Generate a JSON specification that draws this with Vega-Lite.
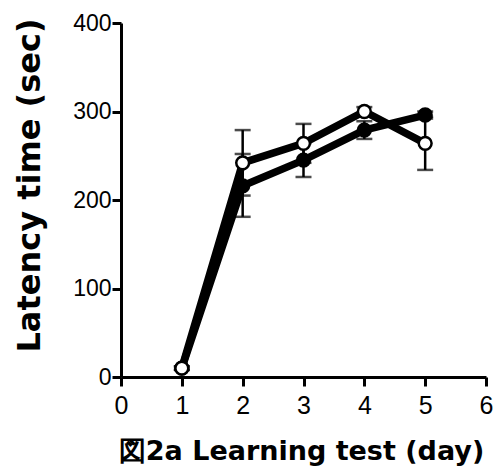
{
  "$schema": "https://vega.github.io/schema/vega-lite/v6.json",
  "width": 365,
  "height": 354,
  "autosize": "none",
  "padding": {"left": 121, "top": 23, "right": 9, "bottom": 89},
  "background": "white",
  "config": {
    "view": {"stroke": null},
    "axis": {
      "domainColor": "black",
      "domainWidth": 3,
      "tickColor": "black",
      "tickWidth": 3,
      "tickSize": 9,
      "grid": false,
      "labelColor": "black",
      "labelFont": "Liberation Sans",
      "labelFontSize": 24,
      "labelFlush": false,
      "labelOverlap": false,
      "titleColor": "black",
      "titleFont": "DejaVu Sans",
      "titleFontWeight": "bold"
    }
  },
  "data": {
    "values": [
      {"day": 1, "series": "filled", "mean": 10, "lo": 8, "hi": 12},
      {"day": 2, "series": "filled", "mean": 216, "lo": 181, "hi": 252},
      {"day": 3, "series": "filled", "mean": 245, "lo": 226, "hi": 264},
      {"day": 4, "series": "filled", "mean": 279, "lo": 269, "hi": 289},
      {"day": 5, "series": "filled", "mean": 296, "lo": 292, "hi": 300},
      {"day": 1, "series": "open", "mean": 10, "lo": 8, "hi": 12},
      {"day": 2, "series": "open", "mean": 242, "lo": 205, "hi": 279},
      {"day": 3, "series": "open", "mean": 264, "lo": 242, "hi": 286},
      {"day": 4, "series": "open", "mean": 300, "lo": 295, "hi": 305},
      {"day": 5, "series": "open", "mean": 264, "lo": 234, "hi": 294}
    ]
  },
  "encoding": {
    "x": {
      "field": "day",
      "type": "quantitative",
      "scale": {"domain": [0, 6], "nice": false, "zero": false},
      "axis": {
        "values": [0, 1, 2, 3, 4, 5, 6],
        "labelFontSize": 25,
        "labelPadding": 7,
        "title": "図2a Learning test (day)",
        "titleFontSize": 27,
        "titleX": 180,
        "titleY": 82,
        "titleAnchor": null,
        "titleAlign": "center",
        "titleBaseline": "alphabetic"
      }
    }
  },
  "layer": [
    {
      "mark": {"type": "rule", "color": "black", "strokeWidth": 2.5},
      "encoding": {
        "y": {
          "field": "lo",
          "type": "quantitative",
          "scale": {"domain": [0, 400], "nice": false},
          "axis": {
            "values": [0, 100, 200, 300, 400],
            "labelFontSize": 23,
            "labelPadding": 1,
            "title": "Latency time (sec)",
            "titleFontSize": 32,
            "titleAngle": -90,
            "titleX": -82,
            "titleY": 162,
            "titleAnchor": null,
            "titleAlign": "center",
            "titleBaseline": "alphabetic"
          }
        },
        "y2": {"field": "hi"}
      }
    },
    {
      "mark": {"type": "tick", "orient": "horizontal", "color": "black", "size": 16, "thickness": 2.5},
      "encoding": {"y": {"field": "lo", "type": "quantitative"}}
    },
    {
      "mark": {"type": "tick", "orient": "horizontal", "color": "black", "size": 16, "thickness": 2.5},
      "encoding": {"y": {"field": "hi", "type": "quantitative"}}
    },
    {
      "mark": {"type": "line", "color": "black", "strokeWidth": 7.5},
      "encoding": {
        "y": {"field": "mean", "type": "quantitative"},
        "detail": {"field": "series"}
      }
    },
    {
      "mark": {"type": "point", "shape": "circle", "filled": true, "stroke": "black", "strokeWidth": 2.5, "size": 165, "opacity": 1},
      "encoding": {
        "y": {"field": "mean", "type": "quantitative"},
        "fill": {
          "field": "series",
          "type": "nominal",
          "scale": {"domain": ["filled", "open"], "range": ["black", "white"]},
          "legend": null
        }
      }
    }
  ]
}
